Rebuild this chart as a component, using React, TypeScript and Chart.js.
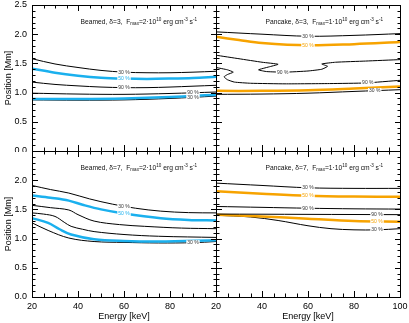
import React, { useEffect, useRef } from "react";
import { Chart, registerables } from "chart.js";

Chart.register(...registerables);

type Pt = [number, number];

// ---------- axes ----------
const energyTickLabels = [20, 40, 60, 80, 100];
const positionTickLabels = [0, 0.5, 1, 1.5, 2, 2.5];

// ---------- Beamed, delta=3 (top left) ----------
const tl30Upper: Pt[] = [[20, 1.58], [30, 1.49], [40, 1.43], [50, 1.38], [60, 1.35], [70, 1.34], [80, 1.34], [90, 1.35], [100, 1.365]];
const tl50Upper: Pt[] = [[20, 1.41], [30, 1.34], [40, 1.29], [50, 1.255], [60, 1.24], [70, 1.235], [80, 1.24], [90, 1.25], [100, 1.27]];
const tl90Upper: Pt[] = [[20, 1.18], [30, 1.14], [40, 1.115], [50, 1.095], [60, 1.085], [70, 1.085], [80, 1.095], [90, 1.11], [100, 1.125]];
const tl90Lower: Pt[] = [[20, 0.99], [40, 0.975], [60, 0.97], [80, 0.985], [100, 1.01]];
const tl50Lower: Pt[] = [[20, 0.89], [40, 0.89], [60, 0.9], [80, 0.925], [100, 0.965]];
const tl30Lower: Pt[] = [[20, 0.875], [40, 0.87], [60, 0.875], [80, 0.9], [100, 0.94]];

// ---------- Pancake, delta=3 (top right) ----------
const tr30Upper: Pt[] = [[20, 2.04], [40, 2.0], [60, 1.965], [80, 1.98], [100, 2.01]];
const tr50Upper: Pt[] = [[20, 1.955], [30, 1.9], [40, 1.85], [60, 1.81], [80, 1.83], [100, 1.865]];
const tr90Upper: Pt[] = [[20, 1.64], [30, 1.58], [40, 1.52], [47, 1.485], [43, 1.44], [38.5, 1.39], [42, 1.36], [50, 1.35], [60, 1.37], [66, 1.4], [68.5, 1.45], [66, 1.49], [72, 1.52], [85, 1.54], [100, 1.565]];
const tr90Lower: Pt[] = [[20, 1.43], [25, 1.39], [27.5, 1.35], [25, 1.31], [23.5, 1.27], [25, 1.22], [28, 1.18], [35, 1.16], [50, 1.15], [70, 1.155], [85, 1.165], [100, 1.21]];
const tr50Lower: Pt[] = [[20, 1.03], [40, 1.03], [60, 1.04], [80, 1.07], [100, 1.105]];
const tr30Lower: Pt[] = [[20, 0.97], [40, 0.975], [60, 0.99], [80, 1.02], [100, 1.05]];

// ---------- Beamed, delta=7 (bottom left) ----------
const bl30Upper: Pt[] = [[20, 1.91], [28, 1.84], [36, 1.78], [45, 1.68], [55, 1.59], [65, 1.52], [76, 1.47], [88, 1.445], [100, 1.44]];
const bl50Upper: Pt[] = [[20, 1.74], [28, 1.7], [36, 1.65], [42, 1.58], [50, 1.5], [60, 1.43], [76, 1.35], [88, 1.32], [100, 1.31]];
const bl90Upper: Pt[] = [[20, 1.57], [28, 1.53], [36, 1.49], [40, 1.41], [47, 1.3], [58, 1.24], [69, 1.21], [85, 1.18], [100, 1.17]];
const bl90Lower: Pt[] = [[20, 1.44], [25, 1.42], [30, 1.38], [34, 1.28], [37, 1.21], [42, 1.16], [47, 1.12], [60, 1.07], [75, 1.04], [100, 1.02]];
const bl50Lower: Pt[] = [[20, 1.35], [27, 1.27], [32, 1.16], [37, 1.07], [47, 0.99], [60, 0.96], [75, 0.95], [100, 0.97]];
const bl30Lower: Pt[] = [[20, 1.27], [27, 1.14], [36, 1.01], [47, 0.95], [60, 0.935], [75, 0.925], [90, 0.93], [100, 0.95]];

// ---------- Pancake, delta=7 (bottom right) ----------
const br30Upper: Pt[] = [[20, 1.95], [40, 1.91], [60, 1.87], [80, 1.86], [100, 1.86]];
const br50Upper: Pt[] = [[20, 1.81], [40, 1.77], [60, 1.735], [80, 1.72], [100, 1.715]];
const br90Upper: Pt[] = [[20, 1.55], [40, 1.535], [60, 1.52], [80, 1.51], [100, 1.505]];
const br90Lower: Pt[] = [[20, 1.42], [60, 1.415], [100, 1.41]];
const br50Lower: Pt[] = [[20, 1.41], [40, 1.38], [60, 1.34], [80, 1.3], [100, 1.29]];
const br30Lower: Pt[] = [[20, 1.4], [35, 1.37], [47, 1.31], [60, 1.22], [70, 1.17], [80, 1.15], [90, 1.15], [100, 1.17]];

// ---------- contour labels [energy, position, text] ----------
const tlLabels: [number, number, string, string][] = [[60, 1.35, "30 %", "k"], [60, 1.24, "50 %", "c"], [60, 1.085, "90 %", "k"], [90, 0.995, "90 %", "k"], [90, 0.915, "30 %", "k"]];
const trLabels: [number, number, string, string][] = [[60, 1.965, "30 %", "k"], [60, 1.81, "50 %", "c"], [49, 1.345, "90 %", "k"], [86, 1.165, "90 %", "k"], [89, 1.035, "30 %", "k"]];
const blLabels: [number, number, string, string][] = [[60, 1.55, "30 %", "k"], [60, 1.43, "50 %", "c"], [90, 0.93, "30 %", "k"]];
const brLabels: [number, number, string, string][] = [[60, 1.87, "30 %", "k"], [60, 1.735, "50 %", "c"], [60, 1.52, "90 %", "k"], [90, 1.41, "90 %", "k"], [90, 1.295, "50 %", "c"], [90, 1.15, "30 %", "k"]];

// ---------- panel titles ----------
const panelModels = ["Beamed", "Pancake", "Beamed", "Pancake"];
const panelDeltas = ["3", "3", "7", "7"];
const panelFmax = ["2", "1", "2", "1"];

const CYAN = "#1ab0ee";
const ORANGE = "#f7a300";
const BLACK = "#000000";
const FONT = "'Liberation Sans', Arial, Helvetica, sans-serif";

interface LineDef { pts: Pt[]; color: string; width: number; tension?: number }
interface PanelDef {
  left: number; top: number; w: number; h: number;
  padding: { left: number; right: number; top: number; bottom: number };
  yAxisWidth: number; xAxisHeight: number;
  showY: boolean; showX: boolean; hideX: number[]; hideY: number[];
  idx: number; annotRight: number;
  lines: LineDef[]; labels: [number, number, string, string][]; accent: string;
}

function mkLines(a: Pt[][], accent: string, notch = false): LineDef[] {
  return a.map((pts, i) => ({
    pts,
    color: i === 1 || i === 4 ? accent : BLACK,
    width: i === 1 || i === 4 ? 2.5 : 1,
    tension: notch && (i === 2 || i === 3) ? 0.15 : 0.35,
  }));
}

const panels: PanelDef[] = [
  {
    left: 0, top: 0, w: 217, h: 152, padding: { left: 0, right: 1, top: 5, bottom: 1 },
    yAxisWidth: 32, xAxisHeight: 0, showY: true, showX: false, hideX: [], hideY: [],
    idx: 0, annotRight: 19, accent: CYAN, labels: tlLabels,
    lines: mkLines([tl30Upper, tl50Upper, tl90Upper, tl90Lower, tl50Lower, tl30Lower], CYAN),
  },
  {
    left: 200, top: 0, w: 209, h: 152, padding: { left: 0, right: 9, top: 5, bottom: 1 },
    yAxisWidth: 16, xAxisHeight: 0, showY: false, showX: false, hideX: [], hideY: [],
    idx: 1, annotRight: 17, accent: ORANGE, labels: trLabels,
    lines: mkLines([tr30Upper, tr50Upper, tr90Upper, tr90Lower, tr50Lower, tr30Lower], ORANGE, true),
  },
  {
    left: 0, top: 151, w: 217, h: 172, padding: { left: 0, right: 1, top: 0, bottom: 0 },
    yAxisWidth: 32, xAxisHeight: 26, showY: true, showX: true, hideX: [100], hideY: [2.5],
    idx: 2, annotRight: 19, accent: CYAN, labels: blLabels,
    lines: mkLines([bl30Upper, bl50Upper, bl90Upper, bl90Lower, bl50Lower, bl30Lower], CYAN),
  },
  {
    left: 200, top: 151, w: 209, h: 172, padding: { left: 0, right: 9, top: 0, bottom: 0 },
    yAxisWidth: 16, xAxisHeight: 26, showY: false, showX: true, hideX: [], hideY: [],
    idx: 3, annotRight: 17, accent: ORANGE, labels: brLabels,
    lines: mkLines([br30Upper, br50Upper, br90Upper, br90Lower, br50Lower, br30Lower], ORANGE),
  },
];

function Panel({ def }: { def: PanelDef }) {
  const ref = useRef<HTMLCanvasElement | null>(null);
  useEffect(() => {
    const canvas = ref.current;
    if (!canvas) return;
    const plugin = {
      id: "panelDecor" + def.idx,
      afterDatasetsDraw(chart: any) {
        const { ctx, chartArea: a, scales } = chart;
        const xs = scales.x;
        const ys = scales.y;
        ctx.save();
        // contour labels
        ctx.font = `5px ${FONT}`;
        ctx.textAlign = "center";
        ctx.textBaseline = "middle";
        for (const [e, v, text, c] of def.labels) {
          const px = xs.getPixelForValue(e);
          const py = ys.getPixelForValue(v);
          const w = ctx.measureText(text).width;
          ctx.fillStyle = "#ffffff";
          ctx.fillRect(px - w / 2 - 1, py - 2.5, w + 2, 5);
          ctx.fillStyle = c === "c" ? def.accent : "#333333";
          ctx.fillText(text, px, py);
        }
        // frame
        ctx.strokeStyle = BLACK;
        ctx.lineWidth = 1;
        ctx.strokeRect(a.left + 0.5, a.top + 0.5, a.right - a.left, a.bottom - a.top);
        const line = (x1: number, y1: number, x2: number, y2: number) => {
          ctx.beginPath();
          ctx.moveTo(x1, y1);
          ctx.lineTo(x2, y2);
          ctx.stroke();
        };
        // x ticks
        for (let e = energyTickLabels[0]; e <= energyTickLabels[energyTickLabels.length - 1]; e += 5) {
          const len = energyTickLabels.includes(e) ? 6 : 3.5;
          const px = Math.round(xs.getPixelForValue(e)) + 0.5;
          line(px, a.bottom, px, a.bottom - len);
          line(px, a.top, px, a.top + len);
        }
        // y ticks
        for (let i = 0; i <= 25; i++) {
          const v = i / 10;
          const len = i % 5 === 0 ? 6 : 3.5;
          const py = Math.round(ys.getPixelForValue(v)) + 0.5;
          line(a.left, py, a.left + len, py);
          line(a.right + 1, py, a.right + 1 - len, py);
        }
        // annotation
        const big = 6.7;
        const small = 4.6;
        const parts: [string, number, number][] = [
          [`${panelModels[def.idx]}, δ=${panelDeltas[def.idx]},  F`, big, 0],
          ["max", small, 1.8],
          [`=${panelFmax[def.idx]}·10`, big, 0],
          ["10", small, -2.6],
          [" erg cm", big, 0],
          ["-3", small, -2.6],
          [" s", big, 0],
          ["-1", small, -2.6],
        ];
        let total = 0;
        const widths: number[] = [];
        for (const [t, s] of parts) {
          ctx.font = `${s}px ${FONT}`;
          const w = ctx.measureText(t).width;
          widths.push(w);
          total += w;
        }
        let x = a.right - def.annotRight - total;
        const y = a.top + 17;
        ctx.textAlign = "left";
        ctx.textBaseline = "middle";
        ctx.fillStyle = "#111111";
        parts.forEach(([t, s, dy], i) => {
          ctx.font = `${s}px ${FONT}`;
          ctx.fillText(t, x, y + dy);
          x += widths[i];
        });
        ctx.restore();
      },
    };

    const chart = new Chart(canvas, {
      type: "scatter",
      data: {
        datasets: def.lines.map((l) => ({
          data: l.pts.map(([x, y]) => ({ x, y })),
          borderColor: l.color,
          backgroundColor: l.color,
          borderWidth: l.width,
          showLine: true,
          pointRadius: 0,
          tension: l.tension,
          fill: false,
        })),
      },
      options: {
        responsive: false,
        animation: false,
        devicePixelRatio: 1,
        events: [],
        layout: { padding: def.padding },
        plugins: { legend: { display: false }, tooltip: { enabled: false } },
        scales: {
          x: {
            type: "linear",
            position: "bottom",
            min: energyTickLabels[0],
            max: energyTickLabels[energyTickLabels.length - 1],
            grid: { display: false, drawTicks: false, tickLength: 0 },
            border: { display: false },
            afterBuildTicks: (s: any) => {
              s.ticks = energyTickLabels.map((value) => ({ value }));
            },
            ticks: {
              display: def.showX,
              autoSkip: false,
              maxRotation: 0,
              padding: 4,
              color: BLACK,
              font: { family: FONT, size: 9 },
              callback: (v: any) => (def.hideX.includes(Number(v)) ? "" : String(v)),
            },
            title: {
              display: def.showX,
              text: "Energy [keV]",
              color: BLACK,
              font: { family: FONT, size: 9 },
              padding: { top: 1, bottom: 1 },
            },
            afterFit: (s: any) => {
              s.height = def.xAxisHeight;
              s.paddingLeft = 0;
              s.paddingRight = 0;
            },
          },
          y: {
            type: "linear",
            position: "left",
            min: positionTickLabels[0],
            max: positionTickLabels[positionTickLabels.length - 1],
            grid: { display: false, drawTicks: false, tickLength: 0 },
            border: { display: false },
            afterBuildTicks: (s: any) => {
              s.ticks = positionTickLabels.map((value) => ({ value }));
            },
            ticks: {
              display: def.showY,
              autoSkip: false,
              padding: 5,
              color: BLACK,
              font: { family: FONT, size: 9 },
              callback: (v: any) => (def.hideY.includes(Number(v)) ? "" : Number(v).toFixed(1)),
            },
            title: {
              display: def.showY,
              text: "Position [Mm]",
              color: BLACK,
              font: { family: FONT, size: 9 },
              padding: { top: 3, bottom: 0 },
            },
            afterFit: (s: any) => {
              s.width = def.yAxisWidth;
              s.paddingTop = 0;
              s.paddingBottom = 0;
            },
          },
        },
      } as any,
      plugins: [plugin],
    });
    return () => chart.destroy();
  }, [def]);
  return (
    <canvas
      ref={ref}
      width={def.w}
      height={def.h}
      style={{ position: "absolute", left: def.left, top: def.top, width: def.w, height: def.h }}
    />
  );
}

export default function App() {
  return (
    <div style={{ position: "absolute", left: 0, top: 0, width: 409, height: 323, background: "#ffffff", overflow: "hidden" }}>
      {panels.map((p) => (
        <Panel key={p.idx} def={p} />
      ))}
    </div>
  );
}
